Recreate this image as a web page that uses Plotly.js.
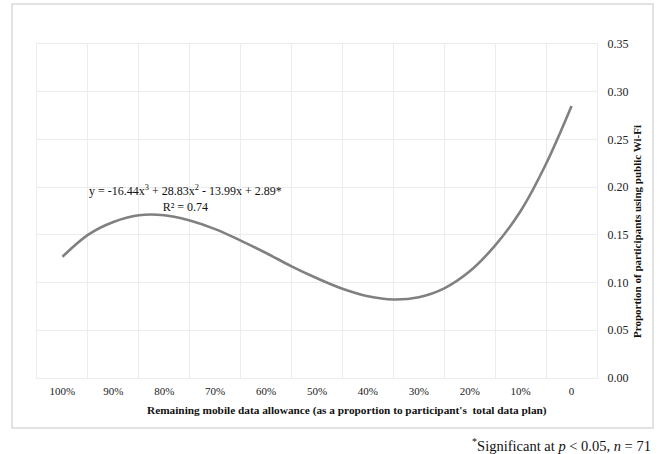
<!DOCTYPE html>
<html>
<head>
<meta charset="utf-8">
<script src="https://cdn.plot.ly/plotly-3.0.1.min.js"></script>
<style>
html,body{margin:0;padding:0;background:#fff;}
#chart{width:670px;height:454px;}
</style>
</head>
<body>
<div id="chart"></div>
<script>
// Remaining mobile data allowance (%), read at 5% steps along the fitted curve
const remaining = [100, 95, 90, 85, 80, 75, 70, 65, 60, 55, 50, 45, 40, 35, 30, 25, 20, 15, 10, 5, 0];
const proportion = [0.127, 0.150, 0.1635, 0.1705, 0.1705, 0.165, 0.156, 0.144, 0.131, 0.117, 0.1045, 0.0935, 0.0857, 0.0823, 0.0847, 0.094, 0.1118, 0.139, 0.175, 0.2245, 0.285];
const tickValues = [100, 90, 80, 70, 60, 50, 40, 30, 20, 10, 0];
const tickLabels = ["100%", "90%", "80%", "70%", "60%", "50%", "40%", "30%", "20%", "10%", "0"];
const gridValues = [95, 85, 75, 65, 55, 45, 35, 25, 15, 5];

const serif = "Liberation Serif, Times New Roman, serif";
const gridColor = "#ececec";

const trace = {
  x: remaining,
  y: proportion,
  type: "scatter",
  mode: "lines",
  line: {color: "#808080", width: 2.6, shape: "spline", smoothing: 1},
  hoverinfo: "skip",
  showlegend: false
};

const layout = {
  width: 670,
  height: 454,
  margin: {l: 37, r: 73, t: 44, b: 76},
  paper_bgcolor: "#ffffff",
  plot_bgcolor: "#ffffff",
  font: {family: serif, size: 11, color: "#111"},
  xaxis: {
    range: [105, -5],
    tickmode: "array",
    tickvals: tickValues,
    ticktext: tickLabels,
    showgrid: false,
    zeroline: false,
    showline: true,
    mirror: true,
    linecolor: gridColor,
    linewidth: 1,
    ticks: "outside",
    ticklen: 3,
    tickcolor: "rgba(0,0,0,0)",
    tickfont: {family: serif, size: 11, color: "#222"},
    minor: {tickmode: "array", tickvals: gridValues, showgrid: true, gridcolor: gridColor, gridwidth: 1, ticks: ""},
    fixedrange: true
  },
  yaxis: {
    side: "right",
    range: [0, 0.35],
    tick0: 0,
    dtick: 0.05,
    tickformat: ".2f",
    showgrid: true,
    gridcolor: gridColor,
    zeroline: false,
    showline: true,
    mirror: true,
    linecolor: gridColor,
    ticks: "outside",
    ticklen: 7,
    tickcolor: "rgba(0,0,0,0)",
    tickfont: {family: serif, size: 12, color: "#222"},
    fixedrange: true
  },
  shapes: [{
    type: "rect", xref: "paper", yref: "paper",
    x0: -0.0446, x1: 1.1, y0: -0.1497, y1: 1.1198,
    line: {color: "#d9d9d9", width: 1.5}, fillcolor: "rgba(0,0,0,0)", layer: "below"
  }],
  annotations: [
    {
      xref: "paper", yref: "paper", x: 0.2643, y: 0.536, xanchor: "center", yanchor: "middle",
      text: "y = -16.44x<sup>3</sup> + 28.83x<sup>2</sup> - 13.99x + 2.89*<br>R² = 0.74",
      showarrow: false, align: "center",
      font: {family: serif, size: 12, color: "#111"}
    },
    {
      xref: "paper", yref: "paper", x: 0.5536, y: -0.0988, xanchor: "center", yanchor: "middle",
      text: "<b>Remaining mobile data allowance (as a proportion to participant's  total data plan)</b>",
      showarrow: false,
      font: {family: serif, size: 11.3, color: "#111"}
    },
    {
      xref: "paper", yref: "paper", x: 1.0714, y: 0.44, xanchor: "center", yanchor: "middle",
      text: "<b>Proportion of participants using public Wi-Fi</b>",
      textangle: -90, showarrow: false,
      font: {family: serif, size: 11, color: "#111"}
    },
    {
      xref: "paper", yref: "paper", x: 1.1, y: -0.2006, xanchor: "right", yanchor: "middle",
      text: "<sup>*</sup>Significant at <i>p</i> < 0.05, <i>n</i> = 71",
      showarrow: false,
      font: {family: serif, size: 14.5, color: "#111"}
    }
  ]
};

Plotly.newPlot("chart", [trace], layout, {staticPlot: true, displayModeBar: false});
</script>
</body>
</html>
